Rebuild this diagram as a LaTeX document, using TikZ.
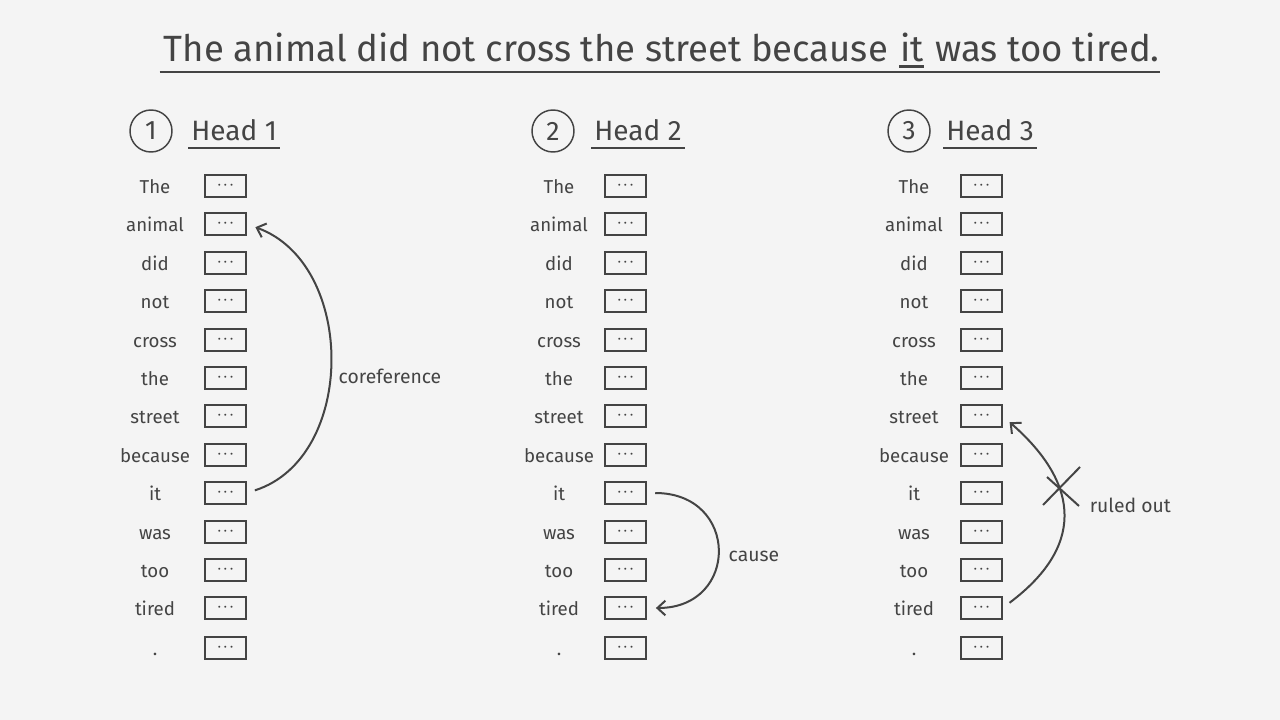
\documentclass[tikz,border=0pt]{standalone}
\usepackage{fontspec}
\setmainfont{Fira Sans}
\usetikzlibrary{positioning,arrows.meta}

\definecolor{ink}{RGB}{68,68,68}
\definecolor{paper}{RGB}{244,244,244}

\newcommand{\slotdots}{\textbf{·}\hspace{2.6pt}\textbf{·}\hspace{2.6pt}\textbf{·}}

\tikzset{every picture/.style={line width=1.1pt}}
\tikzset{
  title/.style={anchor=base west, inner sep=0pt, text=ink, font=\fontsize{27.4}{32}\selectfont},
  headname/.style={anchor=base west, inner xsep=2pt, inner ysep=0pt, text=ink, font=\fontsize{21}{24}\selectfont},
  badge/.style={draw=ink, circle, minimum size=31.5pt, inner sep=0pt, text=ink, font=\fontsize{20}{24}\selectfont},
  word/.style={anchor=base, inner sep=0pt, text=ink, font=\fontsize{14}{17}\selectfont},
  slot/.style={draw=ink, minimum width=30.5pt, minimum height=16.5pt, inner sep=0pt, text=ink, font=\footnotesize},
  link/.style={draw=ink, line width=1.5pt, -{Straight Barb[length=6pt,width=11pt]}, shorten <=6.5pt, shorten >=7pt},
  note/.style={anchor=west, inner sep=0.75pt, text=ink, font=\fontsize{14.5}{17}\selectfont},
}

\begin{document}
\begin{tikzpicture}[x=0.75pt,y=0.75pt,yscale=-1,xscale=1]
		%set diagram left start at 0, and has height of 720
		\fill [paper] (0,0) rectangle (1280,720);
		\useasboundingbox (0,0) rectangle (1280,720);

		% Title
		\node [title] (t1) at (163,62) {The animal did not cross the street because};
		\node [title] (t2) at ([xshift=8pt]t1.base east) {it};
		\node [title] (t3) at ([xshift=8pt]t2.base east) {was too tired.};
		\draw [ink, line width=2.2pt] ([yshift=3.5pt]t2.base west) -- ([yshift=3.5pt]t2.base east) ;
		\draw [ink, line width=1.5pt] ([xshift=-2.5pt,yshift=7.5pt]t1.base west) -- ([xshift=0pt,yshift=7.5pt]t3.base east) ;

		% Head 1
		\node [badge] (b1) at (151,131) {1};
		\node [headname] (hd1) at (188,141) {Head 1};
		\draw [ink] ([yshift=5.25pt]hd1.base west) -- ([yshift=5.25pt]hd1.base east) ;
		% Head 2
		\node [badge] (b2) at (553,131) {2};
		\node [headname] (hd2) at (591,141) {Head 2};
		\draw [ink] ([yshift=5.25pt]hd2.base west) -- ([yshift=5.25pt]hd2.base east) ;
		% Head 3
		\node [badge] (b3) at (909,131) {3};
		\node [headname] (hd3) at (943,141) {Head 3};
		\draw [ink] ([yshift=5.25pt]hd3.base west) -- ([yshift=5.25pt]hd3.base east) ;

		% Tokens, head 1
		\node [word] (tok1-1) at (155,193.5) {The};      \node [slot] (vec1-1) at (225.5,186) {\slotdots};
		\node [word] (tok1-2) at (155,231.5) {animal};   \node [slot] (vec1-2) at (225.5,224) {\slotdots};
		\node [word] (tok1-3) at (155,270.5) {did};      \node [slot] (vec1-3) at (225.5,263) {\slotdots};
		\node [word] (tok1-4) at (155,308.5) {not};      \node [slot] (vec1-4) at (225.5,301) {\slotdots};
		\node [word] (tok1-5) at (155,347.5) {cross};    \node [slot] (vec1-5) at (225.5,340) {\slotdots};
		\node [word] (tok1-6) at (155,385.5) {the};      \node [slot] (vec1-6) at (225.5,378) {\slotdots};
		\node [word] (tok1-7) at (155,423.5) {street};   \node [slot] (vec1-7) at (225.5,416) {\slotdots};
		\node [word] (tok1-8) at (155,462.5) {because};  \node [slot] (vec1-8) at (225.5,455) {\slotdots};
		\node [word] (tok1-9) at (155,500.5) {it};       \node [slot] (vec1-9) at (225.5,493) {\slotdots};
		\node [word] (tok1-10) at (155,539.5) {was};     \node [slot] (vec1-10) at (225.5,532) {\slotdots};
		\node [word] (tok1-11) at (155,577.5) {too};     \node [slot] (vec1-11) at (225.5,570) {\slotdots};
		\node [word] (tok1-12) at (155,615.5) {tired};   \node [slot] (vec1-12) at (225.5,608) {\slotdots};
		\node [word] (tok1-13) at (155,655.5) {.};       \node [slot] (vec1-13) at (225.5,648) {\slotdots};

		% Tokens, head 2
		\node [word] (tok2-1) at (559,193.5) {The};      \node [slot] (vec2-1) at (625.5,186) {\slotdots};
		\node [word] (tok2-2) at (559,231.5) {animal};   \node [slot] (vec2-2) at (625.5,224) {\slotdots};
		\node [word] (tok2-3) at (559,270.5) {did};      \node [slot] (vec2-3) at (625.5,263) {\slotdots};
		\node [word] (tok2-4) at (559,308.5) {not};      \node [slot] (vec2-4) at (625.5,301) {\slotdots};
		\node [word] (tok2-5) at (559,347.5) {cross};    \node [slot] (vec2-5) at (625.5,340) {\slotdots};
		\node [word] (tok2-6) at (559,385.5) {the};      \node [slot] (vec2-6) at (625.5,378) {\slotdots};
		\node [word] (tok2-7) at (559,423.5) {street};   \node [slot] (vec2-7) at (625.5,416) {\slotdots};
		\node [word] (tok2-8) at (559,462.5) {because};  \node [slot] (vec2-8) at (625.5,455) {\slotdots};
		\node [word] (tok2-9) at (559,500.5) {it};       \node [slot] (vec2-9) at (625.5,493) {\slotdots};
		\node [word] (tok2-10) at (559,539.5) {was};     \node [slot] (vec2-10) at (625.5,532) {\slotdots};
		\node [word] (tok2-11) at (559,577.5) {too};     \node [slot] (vec2-11) at (625.5,570) {\slotdots};
		\node [word] (tok2-12) at (559,615.5) {tired};   \node [slot] (vec2-12) at (625.5,608) {\slotdots};
		\node [word] (tok2-13) at (559,655.5) {.};       \node [slot] (vec2-13) at (625.5,648) {\slotdots};

		% Tokens, head 3
		\node [word] (tok3-1) at (914,193.5) {The};      \node [slot] (vec3-1) at (981.5,186) {\slotdots};
		\node [word] (tok3-2) at (914,231.5) {animal};   \node [slot] (vec3-2) at (981.5,224) {\slotdots};
		\node [word] (tok3-3) at (914,270.5) {did};      \node [slot] (vec3-3) at (981.5,263) {\slotdots};
		\node [word] (tok3-4) at (914,308.5) {not};      \node [slot] (vec3-4) at (981.5,301) {\slotdots};
		\node [word] (tok3-5) at (914,347.5) {cross};    \node [slot] (vec3-5) at (981.5,340) {\slotdots};
		\node [word] (tok3-6) at (914,385.5) {the};      \node [slot] (vec3-6) at (981.5,378) {\slotdots};
		\node [word] (tok3-7) at (914,423.5) {street};   \node [slot] (vec3-7) at (981.5,416) {\slotdots};
		\node [word] (tok3-8) at (914,462.5) {because};  \node [slot] (vec3-8) at (981.5,455) {\slotdots};
		\node [word] (tok3-9) at (914,500.5) {it};       \node [slot] (vec3-9) at (981.5,493) {\slotdots};
		\node [word] (tok3-10) at (914,539.5) {was};     \node [slot] (vec3-10) at (981.5,532) {\slotdots};
		\node [word] (tok3-11) at (914,577.5) {too};     \node [slot] (vec3-11) at (981.5,570) {\slotdots};
		\node [word] (tok3-12) at (914,615.5) {tired};   \node [slot] (vec3-12) at (981.5,608) {\slotdots};
		\node [word] (tok3-13) at (914,655.5) {.};       \node [slot] (vec3-13) at (981.5,648) {\slotdots};

		%Curve: it -> animal
		\draw [link] (vec1-9.east) .. controls +(110,-35) and +(110,40) .. (vec1-2.east) ;
		\node [note] (lbl1) at (337,376) {coreference};
		%Curve: it -> tired
		\draw [link] (vec2-9.east) .. controls +(93,0) and +(93,0) .. (vec2-12.east) ;
		\node [note] (lbl2) at (727,556) {cause};
		%Curve: tired -> street
		\draw [link] (vec3-12.east) .. controls +(80,-60) and +(80,70) .. (vec3-7.east) ;
		\coordinate (veto) at (1061,489);
		\draw [ink, line width=1.5pt] (veto) +(-18,16) -- +(19,-22) ;
		\draw [ink, line width=1.5pt] (veto) +(-14,-12) -- +(18,17) ;
		\node [note] (lbl3) at (1088,505) {ruled out};
	\end{tikzpicture}
\end{document}
